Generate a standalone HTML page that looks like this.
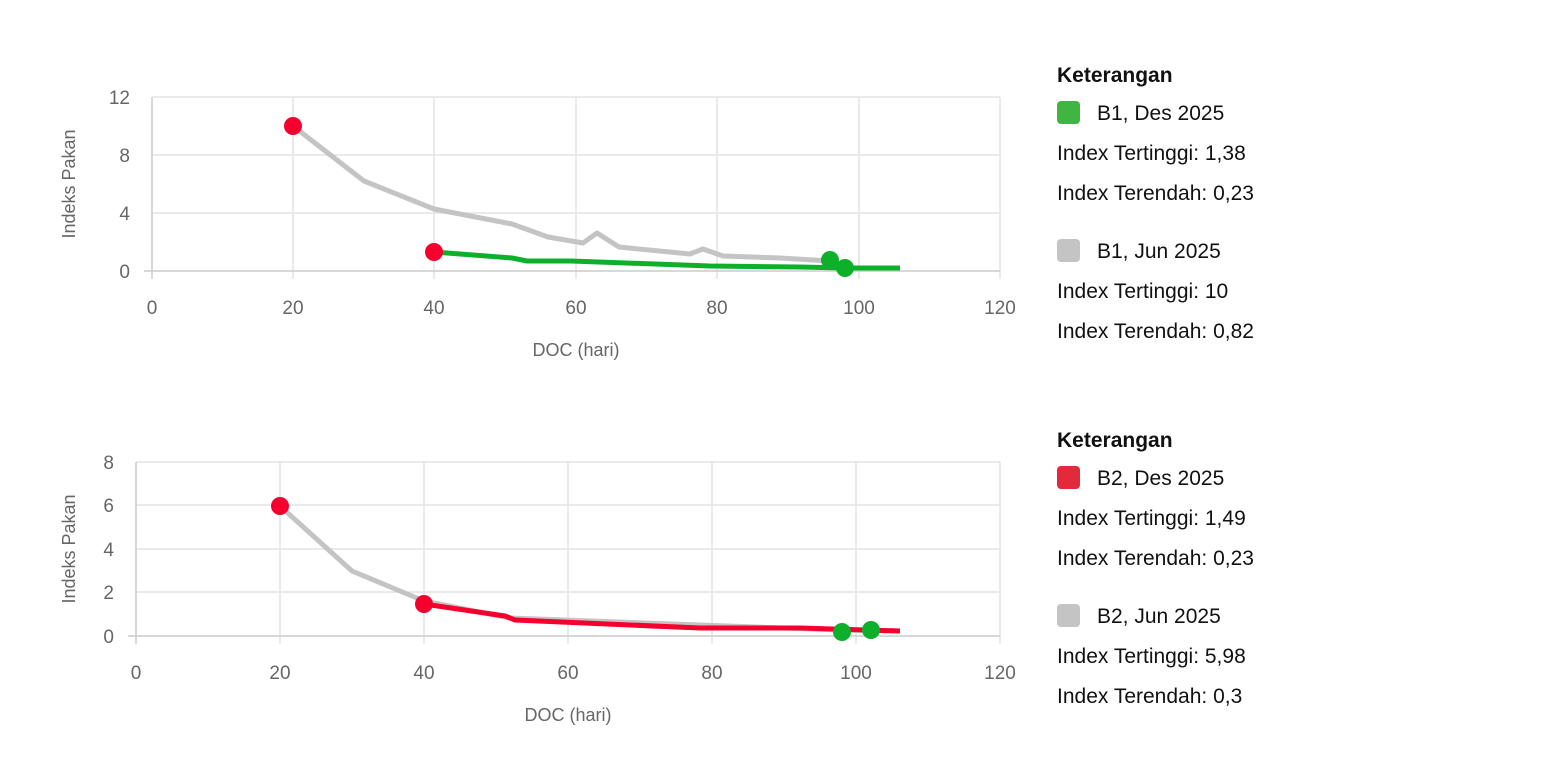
<!DOCTYPE html>
<html><head><meta charset="utf-8"><style>
body{margin:0;background:#fff;width:1564px;height:764px;overflow:hidden;font-family:"Liberation Sans",sans-serif}
.lg{position:absolute;left:1057px;font-size:21px;color:#111}
.lg div{position:absolute;left:0;white-space:nowrap}
.sw{display:inline-block;width:23px;height:23px;border-radius:4px;vertical-align:-4px;margin-right:17px}
</style></head><body>
<svg width="1564" height="764" style="position:absolute;left:0;top:0" font-family="Liberation Sans, sans-serif">
<g stroke="#e3e3e3" stroke-width="1.5">
<line x1="152" y1="97" x2="1000" y2="97"/><line x1="152" y1="155" x2="1000" y2="155"/><line x1="152" y1="213" x2="1000" y2="213"/>
<line x1="293" y1="97" x2="293" y2="279"/><line x1="434" y1="97" x2="434" y2="279"/><line x1="576" y1="97" x2="576" y2="279"/><line x1="717" y1="97" x2="717" y2="279"/><line x1="859" y1="97" x2="859" y2="279"/><line x1="1000" y1="97" x2="1000" y2="279"/>
<line x1="136" y1="462" x2="1000" y2="462"/><line x1="136" y1="505" x2="1000" y2="505"/><line x1="136" y1="549" x2="1000" y2="549"/><line x1="136" y1="592" x2="1000" y2="592"/>
<line x1="280" y1="462" x2="280" y2="644"/><line x1="424" y1="462" x2="424" y2="644"/><line x1="568" y1="462" x2="568" y2="644"/><line x1="712" y1="462" x2="712" y2="644"/><line x1="856" y1="462" x2="856" y2="644"/><line x1="1000" y1="462" x2="1000" y2="644"/>
</g>
<g stroke="#ccc" stroke-width="1.5"><line x1="144" y1="271" x2="1000" y2="271"/><line x1="152" y1="97" x2="152" y2="279"/><line x1="128" y1="636" x2="1000" y2="636"/><line x1="136" y1="462" x2="136" y2="644"/></g>
<g font-size="19" fill="#666" text-anchor="end">
<text x="130" y="104">12</text><text x="130" y="162">8</text><text x="130" y="220">4</text><text x="130" y="278">0</text>
<text x="114" y="469">8</text><text x="114" y="512">6</text><text x="114" y="556">4</text><text x="114" y="599">2</text><text x="114" y="643">0</text>
</g>
<g font-size="19" fill="#666" text-anchor="middle">
<text x="152" y="314">0</text><text x="293" y="314">20</text><text x="434" y="314">40</text><text x="576" y="314">60</text><text x="717" y="314">80</text><text x="859" y="314">100</text><text x="1000" y="314">120</text>
<text x="136" y="679">0</text><text x="280" y="679">20</text><text x="424" y="679">40</text><text x="568" y="679">60</text><text x="712" y="679">80</text><text x="856" y="679">100</text><text x="1000" y="679">120</text>
<text x="576" y="356" font-size="18">DOC (hari)</text><text x="568" y="721" font-size="18">DOC (hari)</text>
<text transform="translate(75,184) rotate(-90)" font-size="18">Indeks Pakan</text>
<text transform="translate(75,549) rotate(-90)" font-size="18">Indeks Pakan</text>
</g>
<g fill="none" stroke-width="5" stroke-linejoin="round">
<polyline stroke="#c4c4c4" points="293,126 364,181 434,209 512,224 548,237 583,243 597,233 619,247 690,254 703,249 723,256 780,258 830,261"/>
<polyline stroke="#0db02b" points="434,252 512,258 527,261 571,261 710,266 800,267 845,268 900,268"/>
<polyline stroke="#c4c4c4" points="280,506 352,571 424,601 510,618 700,625 840,630 900,631"/>
<polyline stroke="#f5002e" points="424,604 505,616 515,620 700,628 800,628 900,631"/>
</g>
<g>
<circle cx="293" cy="126" r="9" fill="#f5002e"/><circle cx="434" cy="252" r="9" fill="#f5002e"/>
<circle cx="830" cy="260" r="9" fill="#0db02b"/><circle cx="845" cy="268" r="9" fill="#0db02b"/>
<circle cx="280" cy="506" r="9" fill="#f5002e"/><circle cx="424" cy="604" r="9" fill="#f5002e"/>
<circle cx="842" cy="632" r="9" fill="#0db02b"/><circle cx="871" cy="630" r="9" fill="#0db02b"/>
</g>
</svg>
<div class="lg" style="top:64px">
<div style="top:0;font-weight:bold">Keterangan</div>
<div style="top:37px"><span class="sw" style="background:#41b541"></span>B1, Des 2025</div>
<div style="top:78px">Index Tertinggi: 1,38</div>
<div style="top:118px">Index Terendah: 0,23</div>
<div style="top:175px"><span class="sw" style="background:#c4c4c4"></span>B1, Jun 2025</div>
<div style="top:216px">Index Tertinggi: 10</div>
<div style="top:256px">Index Terendah: 0,82</div>
</div>
<div class="lg" style="top:429px">
<div style="top:0;font-weight:bold">Keterangan</div>
<div style="top:37px"><span class="sw" style="background:#e22a3a"></span>B2, Des 2025</div>
<div style="top:78px">Index Tertinggi: 1,49</div>
<div style="top:118px">Index Terendah: 0,23</div>
<div style="top:175px"><span class="sw" style="background:#c4c4c4"></span>B2, Jun 2025</div>
<div style="top:216px">Index Tertinggi: 5,98</div>
<div style="top:256px">Index Terendah: 0,3</div>
</div>
</body></html>
